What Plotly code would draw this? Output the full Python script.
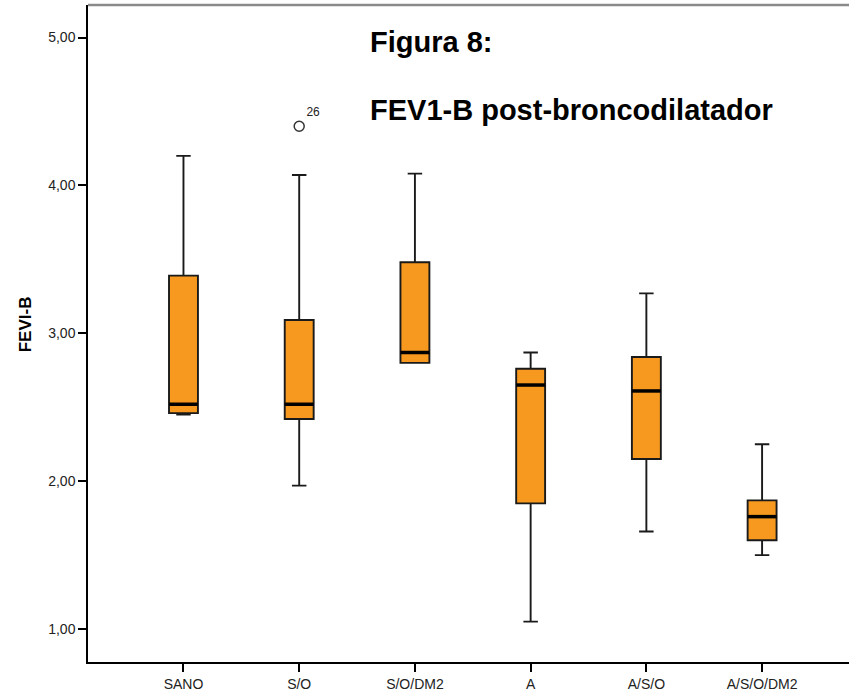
import plotly.graph_objects as go

categories = ["SANO", "S/O", "S/O/DM2", "A", "A/S/O", "A/S/O/DM2"]
lower_whisker = [2.45, 1.97, 2.80, 1.05, 1.66, 1.50]
q1 = [2.46, 2.42, 2.80, 1.85, 2.15, 1.60]
median = [2.52, 2.52, 2.87, 2.65, 2.61, 1.76]
q3 = [3.39, 3.09, 3.48, 2.76, 2.84, 1.87]
upper_whisker = [4.20, 4.07, 4.08, 2.87, 3.27, 2.25]
outlier_category = ["S/O"]
outlier_value = [4.40]
outlier_label = ["26"]

ORANGE = "#F7991E"
BOX_W = 0.25
pos = list(range(len(categories)))

fig = go.Figure()
fig.add_trace(go.Box(
    x=pos, q1=q1, median=median, q3=q3,
    lowerfence=lower_whisker, upperfence=upper_whisker,
    width=BOX_W, whiskerwidth=0.5,
    fillcolor=ORANGE, line=dict(color="#1a1a1a", width=1.9),
    boxpoints=False, showlegend=False, hoverinfo="skip",
))

# thick median lines
mx, my = [], []
for i, m in zip(pos, median):
    mx += [i - BOX_W / 2, i + BOX_W / 2, None]
    my += [m, m, None]
fig.add_trace(go.Scatter(x=mx, y=my, mode="lines",
                         line=dict(color="black", width=3.5),
                         showlegend=False, hoverinfo="skip"))

# outlier
ox = [categories.index(c) for c in outlier_category]
fig.add_trace(go.Scatter(
    x=ox, y=outlier_value, mode="markers+text",
    marker=dict(symbol="circle-open", size=10, color="#333", line=dict(width=1.5)),
    text=outlier_label, textposition="top right",
    textfont=dict(family="Liberation Sans, Arial", size=12, color="#222"),
    showlegend=False, hoverinfo="skip"))

fig.update_layout(
    width=849, height=691,
    margin=dict(l=88, r=0, t=5, b=29),
    paper_bgcolor="white", plot_bgcolor="white",
    separators=",.",
    font=dict(family="Liberation Sans, Arial", color="#222"),
    xaxis=dict(
        range=[-0.825, 5.751], tickmode="array", tickvals=pos, ticktext=categories,
        showgrid=False, zeroline=False, showline=True, linecolor="black", linewidth=2,
        ticks="outside", ticklen=8, tickwidth=1.5, tickcolor="black",
        tickfont=dict(size=14, color="#222"),
    ),
    yaxis=dict(
        range=[0.777, 5.22], tickvals=[1, 2, 3, 4, 5], tickformat=".2f",
        showgrid=False, zeroline=False, showline=True, linecolor="black", linewidth=1.5,
        ticks="outside", ticklen=8, tickwidth=1.5, tickcolor="black",
        tickfont=dict(size=14, color="#222"),
    ),
    shapes=[dict(type="line", xref="paper", yref="paper", x0=0, x1=1, y0=1, y1=1,
                 line=dict(color="#8a8a8a", width=2.5))],
    annotations=[
        dict(text="<b>Figura 8:</b>", xref="paper", yref="paper", x=0.368, y=0.9437,
             xanchor="left", yanchor="middle", showarrow=False,
             font=dict(family="Liberation Sans, Arial", size=29, color="black")),
        dict(text="<b>FEV1-B post-broncodilatador</b>", xref="paper", yref="paper",
             x=0.368, y=0.840, xanchor="left", yanchor="middle", showarrow=False,
             font=dict(family="Liberation Sans, Arial", size=29, color="black")),
        dict(text="<b>FEVI-B</b>", xref="paper", yref="paper", x=-0.0828, y=0.514,
             xanchor="center", yanchor="middle", textangle=-90, showarrow=False,
             font=dict(family="Liberation Sans, Arial", size=17, color="black")),
    ],
)

fig.write_html("out.html")
